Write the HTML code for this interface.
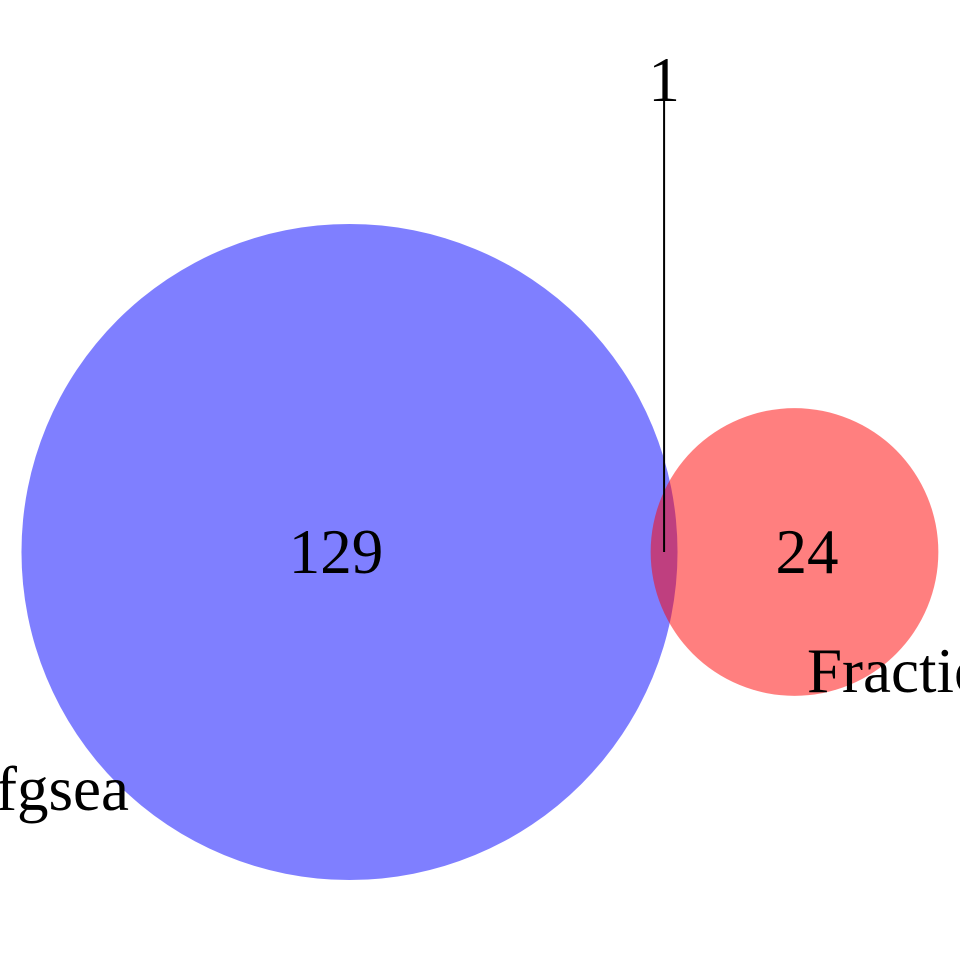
<!DOCTYPE html>
<html><head><meta charset="utf-8"><style>
html,body{margin:0;padding:0;background:#fff;width:960px;height:960px;overflow:hidden}
svg text{font-family:"Liberation Serif",serif;fill:#000}
</style></head><body>
<svg id="chart" width="960" height="960" viewBox="0 0 960 960" xmlns="http://www.w3.org/2000/svg"></svg>
<script>
const setNames = ["fgsea", "Fraction"];
const uniqueCounts = [129, 24];
const overlapCount = [1];

const svg = document.getElementById('chart');
const NS = 'http://www.w3.org/2000/svg';
const k = 28.77;
const rA = k * Math.sqrt(uniqueCounts[0] + overlapCount[0]);
const rB = k * Math.sqrt(uniqueCounts[1] + overlapCount[0]);
const cy = 552;
const cxA = 349.5;
const cxB = 794.5;

function mk(tag, attrs) {
  const e = document.createElementNS(NS, tag);
  for (const key in attrs) e.setAttribute(key, attrs[key]);
  svg.appendChild(e);
  return e;
}

const cA = mk('circle', {cx: cxA, cy: cy, r: rA, fill: 'rgb(0,0,255)', 'fill-opacity': 0.5});


const cB = mk('circle', {cx: cxB, cy: cy, r: rB, fill: 'rgb(255,0,0)', 'fill-opacity': 0.5});



const ox = (cxA + rA + cxB - rB) / 2;
const ln = mk('line', {x1: ox, y1: 100, x2: ox, y2: cy, stroke: '#000', 'stroke-width': 2});



function txt(x, y, s, anchor, name) {
  const t = mk('text', {x: x, y: y, 'font-size': 63, 'text-anchor': anchor});
  t.textContent = s;
  
  
}
txt(336, 573, String(uniqueCounts[0]), 'middle', 'count-fgsea');
txt(807, 573, String(uniqueCounts[1]), 'middle', 'count-fraction');
txt(ox, 101, String(overlapCount[0]), 'middle', 'count-overlap');
txt(-4, 810, setNames[0], 'start', 'label-fgsea');
txt(807, 692, setNames[1], 'start', 'label-fraction');
</script>
</body></html>
